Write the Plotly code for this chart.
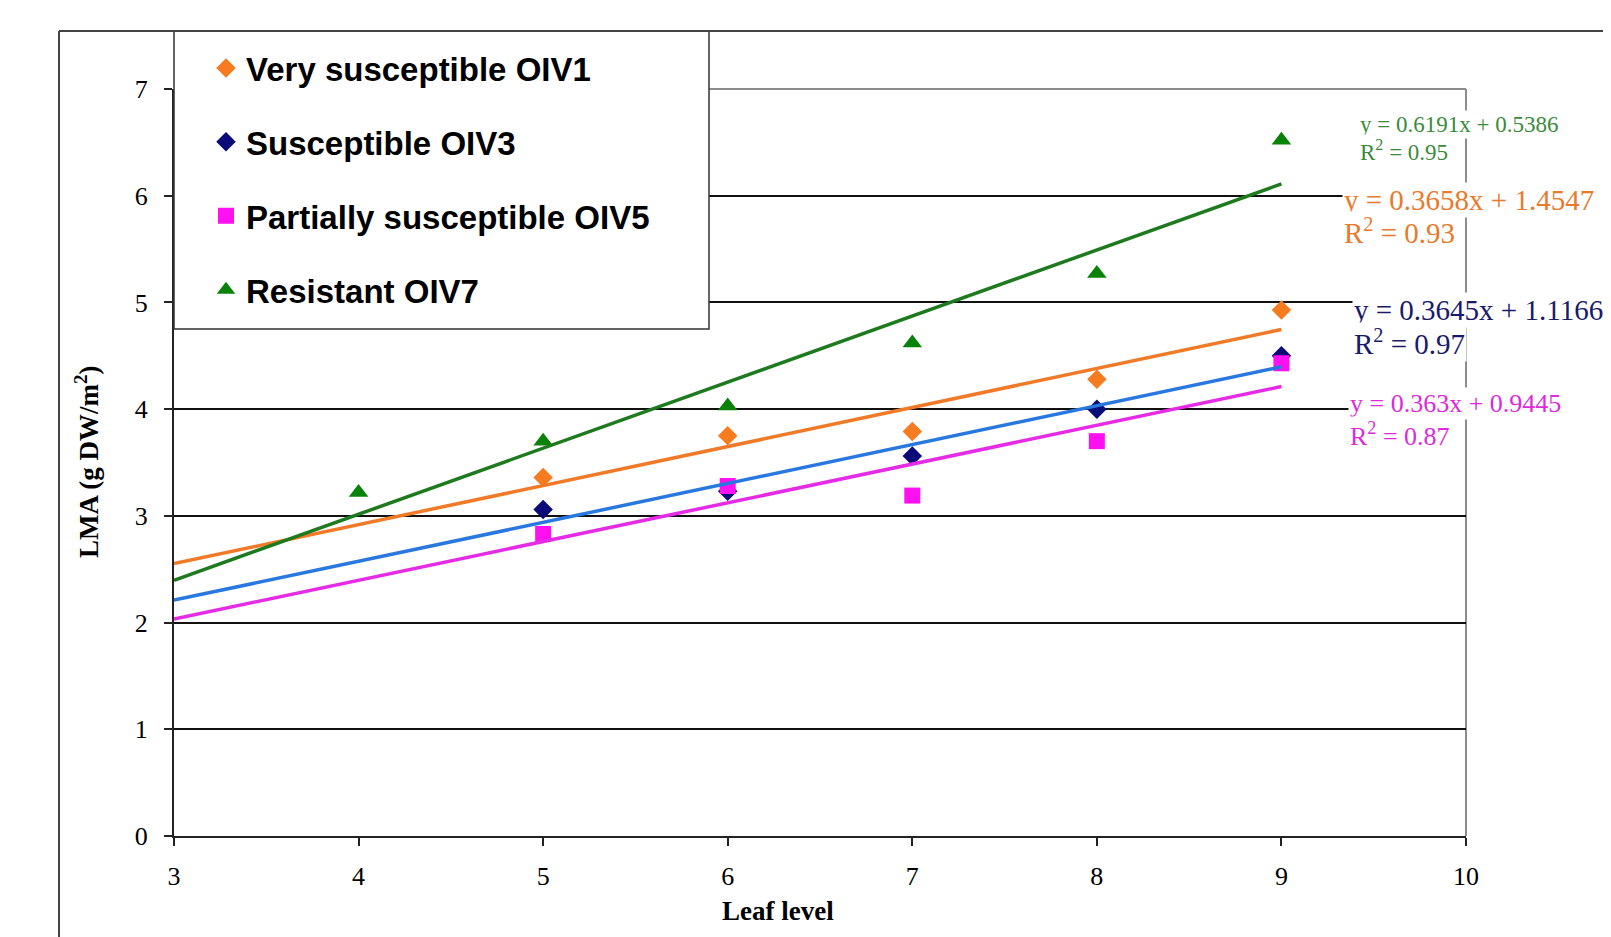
import plotly.graph_objects as go

# ---------------- data ----------------
series_names = ["Very susceptible OIV1", "Susceptible OIV3",
                "Partially susceptible OIV5", "Resistant OIV7"]
leaf_oiv1 = [5, 6, 7, 8, 9]
lma_oiv1 = [3.36, 3.75, 3.79, 4.28, 4.93]
leaf_oiv3 = [5, 6, 7, 8, 9]
lma_oiv3 = [3.06, 3.23, 3.56, 4.00, 4.50]
leaf_oiv5 = [5, 6, 7, 8, 9]
lma_oiv5 = [2.83, 3.28, 3.19, 3.70, 4.43]
leaf_oiv7 = [4, 5, 6, 7, 8, 9]
lma_oiv7 = [3.22, 3.70, 4.03, 4.62, 5.27, 6.52]

slopes = [0.3658, 0.3645, 0.363, 0.6191]
intercepts = [1.4547, 1.1166, 0.9445, 0.5386]
r_squared = [0.93, 0.97, 0.87, 0.95]
trend_span = [3, 9]          # trendlines forecast back to leaf level 3

x_ticks = [3, 4, 5, 6, 7, 8, 9, 10]
y_ticks = [0, 1, 2, 3, 4, 5, 6, 7]

# ---------------- styles ----------------
marker_colors = ["#F77B1F", "#0A0A78", "#FF10F0", "#0A820A"]
marker_symbols = ["diamond", "diamond", "square", "triangle-up"]
marker_sizes = [15, 15, 16, 17]
trend_colors = ["#F07A28", "#2878E0", "#E62BE6", "#1E7A1E"]
eq_colors = ["#E87A2C", "#1A1A6A", "#DC2ADC", "#3A8C3A"]

OFF = 8                      # page body margin
W, H = 1611 - OFF, 937 - OFF
ML, MT = 174 - OFF, 89 - OFF
PLOT_R, PLOT_B = 1466 - OFF, 836 - OFF
MR, MB = W - PLOT_R, H - PLOT_B
PW, PH = W - ML - MR, H - MT - MB


def px_x(px):
    return (px - OFF - ML) / PW


def px_y(py):
    return (PLOT_B - (py - OFF)) / PH


xs = [leaf_oiv1, leaf_oiv3, leaf_oiv5, leaf_oiv7]
ys = [lma_oiv1, lma_oiv3, lma_oiv5, lma_oiv7]

fig = go.Figure()
for i in range(4):
    fig.add_trace(go.Scatter(
        x=xs[i], y=ys[i], mode="markers", name=series_names[i],
        legendgroup=f"g{i}",
        marker=dict(symbol=marker_symbols[i], size=marker_sizes[i],
                    color=marker_colors[i], line=dict(width=0)),
    ))
for i in range(4):
    tx = list(trend_span)
    ty = [slopes[i] * v + intercepts[i] for v in tx]
    fig.add_trace(go.Scatter(
        x=tx, y=ty, mode="lines", showlegend=False, hoverinfo="skip",
        line=dict(color=trend_colors[i], width=3.5),
    ))

serif = "Liberation Serif, Times New Roman, serif"

# equation labels (order: OIV1, OIV3, OIV5, OIV7)
eq_pos = [(1342, 200, 231, 29), (1352, 310, 342, 29),
          (1348, 403, 434, 26), (1358, 124, 150, 23)]
annotations = []
for i in range(4):
    ex, l1, l2, fs = eq_pos[i]
    line1 = f"y = {slopes[i]}x + {intercepts[i]}"
    line2 = f"R<sup>2</sup> = {r_squared[i]}"
    for txt, yy in ((line1, l1), (line2, l2)):
        annotations.append(dict(
            x=px_x(ex), y=px_y(yy), xref="paper", yref="paper",
            xanchor="left", yanchor="middle", text=txt, showarrow=False,
            font=dict(family=serif, size=fs, color=eq_colors[i]),
            bgcolor="white", borderpad=1,
        ))

annotations.append(dict(
    x=px_x(778), y=px_y(911), xref="paper", yref="paper",
    xanchor="center", yanchor="middle",
    text="<b>Leaf level</b>", showarrow=False,
    font=dict(family=serif, size=27, color="black")))
annotations.append(dict(
    x=px_x(87), y=px_y(462), xref="paper", yref="paper", textangle=-90,
    xanchor="center", yanchor="middle",
    text="<b>LMA (g DW/m<sup>2</sup>)</b>", showarrow=False,
    font=dict(family=serif, size=27, color="black")))

shapes = [
    # gray plot-area border top/right
    dict(type="line", xref="paper", yref="paper", x0=0, x1=1, y0=1, y1=1,
         line=dict(color="#8C8C8C", width=2), layer="between"),
    dict(type="line", xref="paper", yref="paper", x0=1, x1=1, y0=0, y1=1,
         line=dict(color="#8C8C8C", width=2), layer="between"),
    # legend box
    dict(type="rect", xref="paper", yref="paper",
         x0=px_x(174), x1=px_x(709), y0=px_y(329), y1=px_y(31),
         fillcolor="white", line=dict(color="#333", width=1.5), layer="above"),
    # outer chart border (left + top)
    dict(type="line", xref="paper", yref="paper",
         x0=px_x(59), x1=px_x(59), y0=px_y(950), y1=px_y(31),
         line=dict(color="#444", width=2)),
    dict(type="line", xref="paper", yref="paper",
         x0=px_x(59), x1=px_x(1625), y0=px_y(31), y1=px_y(31),
         line=dict(color="#444", width=2)),
]

fig.update_layout(
    width=W, height=H,
    margin=dict(l=ML, r=MR, t=MT, b=MB, pad=0, autoexpand=False),
    paper_bgcolor="white", plot_bgcolor="white",
    showlegend=True,
    legend=dict(x=px_x(206), y=px_y(40), xanchor="left", yanchor="top",
                bgcolor="rgba(0,0,0,0)", borderwidth=0,
                font=dict(family="Liberation Sans, Arial, sans-serif",
                          size=33, color="black", weight="bold"),
                tracegroupgap=28, itemsizing="trace"),
    xaxis=dict(range=[3, 10], tickvals=x_ticks, showgrid=False,
               showline=True, linecolor="#222", linewidth=2,
               ticks="outside", ticklen=8, tickcolor="#222", tickwidth=1.5,
               ticklabelstandoff=8,
               tickfont=dict(family=serif, size=26, color="black"),
               zeroline=False),
    yaxis=dict(range=[0, 7], tickvals=y_ticks, showgrid=True,
               gridcolor="#111", gridwidth=1.5,
               showline=True, linecolor="#222", linewidth=2,
               ticks="outside", ticklen=8, tickcolor="#222", tickwidth=1.5,
               ticklabelstandoff=11,
               tickfont=dict(family=serif, size=26, color="black"),
               zeroline=False),
    annotations=annotations,
    shapes=shapes,
)

fig.write_html("out.html")
